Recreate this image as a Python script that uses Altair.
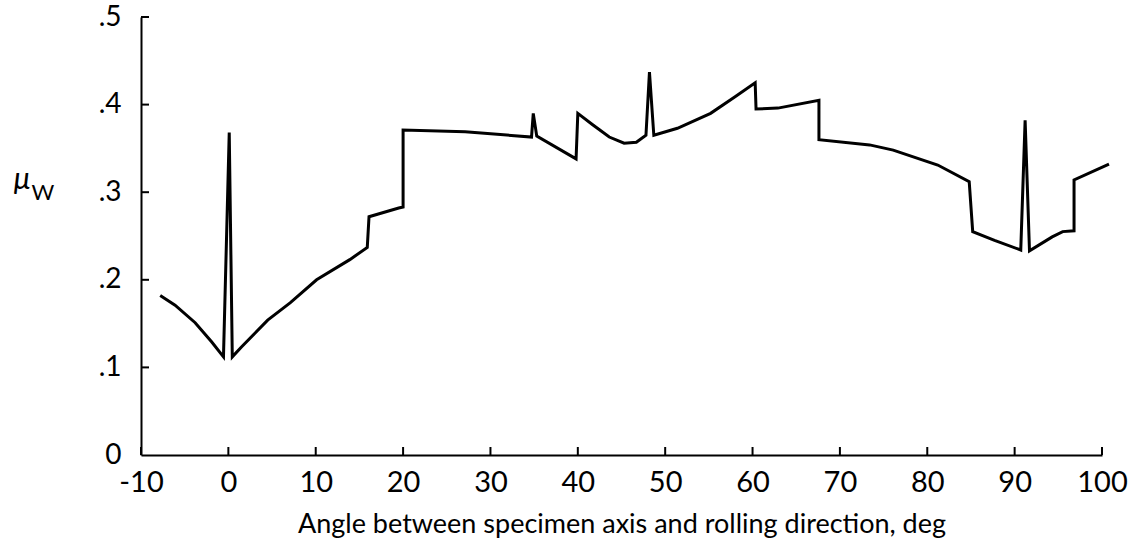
import altair as alt
import pandas as pd

# Curve (angle in deg, mu_W)
angle = [-7.8, -6.1, -3.8, -1.9, -0.56, 0.1, 0.45, 1.47, 4.5, 7.1, 10.1, 13.9, 15.9, 16.1,
         19.5, 20.0, 20.0, 27.1, 34.7, 34.9, 35.3, 39.8, 40.0, 41.7, 43.6, 45.3, 46.7, 47.8,
         48.2, 48.7, 51.4, 55.2, 58.0, 60.3, 60.4, 62.9, 67.6, 67.6, 73.4, 76.1, 81.2, 84.8,
         85.2, 87.7, 90.7, 91.2, 91.7, 94.3, 95.5, 96.8, 96.8, 100.8]
mu = [0.182, 0.171, 0.151, 0.129, 0.112, 0.368, 0.112, 0.123, 0.154, 0.174, 0.200, 0.223,
      0.237, 0.272, 0.282, 0.283, 0.371, 0.369, 0.363, 0.390, 0.364, 0.338, 0.390, 0.377,
      0.363, 0.356, 0.357, 0.365, 0.437, 0.365, 0.373, 0.390, 0.409, 0.425, 0.395, 0.396,
      0.405, 0.360, 0.354, 0.348, 0.331, 0.312, 0.255, 0.245, 0.234, 0.382, 0.233, 0.249,
      0.255, 0.256, 0.314, 0.332]

x_ticks = [-10, 0, 10, 20, 30, 40, 50, 60, 70, 80, 90, 100]
y_ticks = [0, 0.1, 0.2, 0.3, 0.4, 0.5]

x_title = "Angle between specimen axis and rolling direction, deg"
y_symbol = ["μ"]
y_sub = ["W"]

W, H = 961, 438
FONT = "Lato"

df = pd.DataFrame({"angle": angle, "mu": mu, "order": list(range(len(angle)))})
xt_df = pd.DataFrame({"angle": x_ticks, "mu": [0.0] * len(x_ticks)})
yt_df = pd.DataFrame({"angle": [-10.0] * (len(y_ticks) - 1), "mu": y_ticks[1:]})

xscale = alt.Scale(domain=[-10, 100], nice=False, zero=False)
yscale = alt.Scale(domain=[0, 0.5], nice=False, zero=False)

x_axis = alt.Axis(values=x_ticks, tickSize=0, grid=False,
                  labelExpr="datum.value < 0 ? '-' + abs(datum.value) : '' + datum.value",
                  labelFont=FONT, labelFontSize=29, labelColor="black",
                  labelPadding=13, labelFlush=False,
                  domainColor="black", domainWidth=2,
                  title=x_title, titleFont=FONT, titleFontSize=27,
                  titleFontWeight="normal", titleColor="black", titlePadding=14)
y_axis = alt.Axis(values=y_ticks, tickSize=0, grid=False,
                  labelExpr="datum.value == 0 ? '0' : replace(format(datum.value, '.1f'), '0.', '.')",
                  labelFont=FONT, labelFontSize=28, labelColor="black",
                  labelPadding=20, labelFlush=False,
                  domainColor="black", domainWidth=2, title=None)

line = alt.Chart(df).mark_line(color="black", strokeWidth=3).encode(
    x=alt.X("angle:Q", scale=xscale, axis=x_axis),
    y=alt.Y("mu:Q", scale=yscale, axis=y_axis),
    order="order:Q",
)

mu_txt = alt.Chart(pd.DataFrame({"s": y_symbol})).mark_text(
    font=FONT, fontSize=30, fontStyle="italic", color="black", align="center", baseline="alphabetic"
).encode(text="s:N", x=alt.value(-119), y=alt.value(172))
w_txt = alt.Chart(pd.DataFrame({"s": y_sub})).mark_text(
    font=FONT, fontSize=22, color="black", align="center", baseline="alphabetic"
).encode(text="s:N", x=alt.value(-98), y=alt.value(183))

# inward tick marks drawn as stroked point symbols, sharing the axes
xt = alt.Chart(xt_df).mark_point(
    shape="M0,0L0,-1", size=256, stroke="black", strokeWidth=2, filled=False, opacity=1
).encode(
    x=alt.X("angle:Q", scale=xscale, axis=x_axis),
    y=alt.Y("mu:Q", scale=yscale, axis=y_axis),
)
yt = alt.Chart(yt_df).mark_point(
    shape="M0,0L1,0", size=256, stroke="black", strokeWidth=2, filled=False, opacity=1
).encode(
    x=alt.X("angle:Q", scale=xscale, axis=x_axis),
    y=alt.Y("mu:Q", scale=yscale, axis=y_axis),
)

chart = alt.layer(line, mu_txt, w_txt, xt, yt).properties(
    width=W, height=H,
    autosize=alt.AutoSizeParams(type="none"),
    padding={"left": 141, "top": 17, "right": 34, "bottom": 91},
    background="white",
).configure_view(stroke=None)

chart.save("out.html", embed_options={"renderer": "svg", "actions": False})
